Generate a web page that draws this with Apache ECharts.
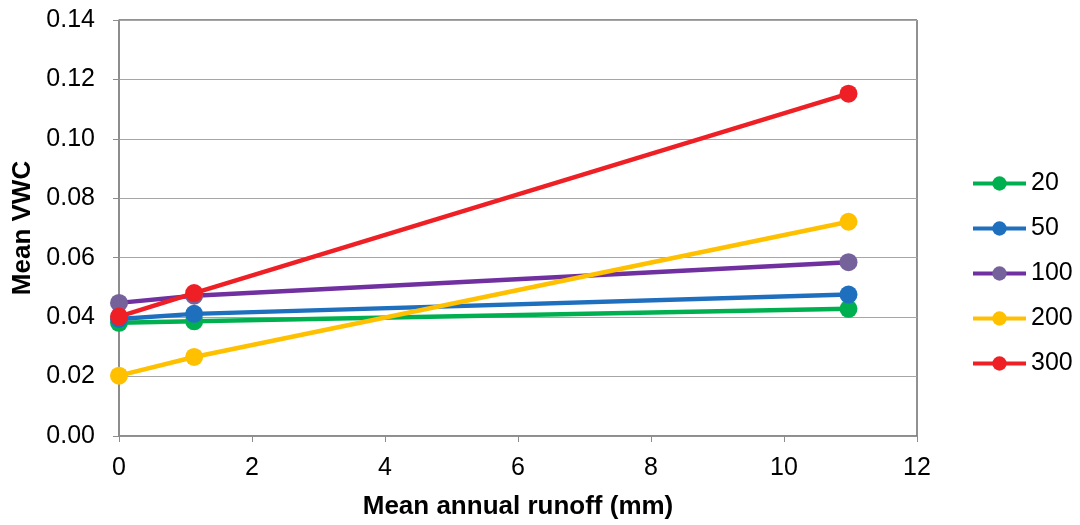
<!DOCTYPE html>
<html>
<head>
<meta charset="utf-8">
<script src="https://cdn.jsdelivr.net/npm/echarts@6/dist/echarts.min.js"></script>
<style>
  html, body { margin: 0; padding: 0; background: #fff; }
  #chart { width: 1080px; height: 525px; }
</style>
</head>
<body>
<div id="chart"></div>
<script>
// Mean annual runoff (mm) at each sampled site
const runoff = [0, 1.13, 10.97];

// Mean volumetric water content by depth series
const seriesNames = ['20', '50', '100', '200', '300'];
const vwc20  = [0.0381, 0.0386, 0.0428];
const vwc50  = [0.0394, 0.0411, 0.0476];
const vwc100 = [0.0448, 0.0472, 0.0585];
const vwc200 = [0.0203, 0.0266, 0.0721];
const vwc300 = [0.0402, 0.0481, 0.1152];

const lineColors   = ['#00b050', '#1f6fbf', '#7030a0', '#ffc000', '#ee2026'];
const markerColors = ['#00b050', '#1f6fbf', '#75629b', '#ffc000', '#ee2026'];
const values = [vwc20, vwc50, vwc100, vwc200, vwc300];

const font = 'Liberation Sans, Arial, sans-serif';

const chart = echarts.init(document.getElementById('chart'));
chart.setOption({
  animation: false,
  backgroundColor: '#fff',
  grid: {
    left: 119, right: 163, top: 20, bottom: 87,
    show: true, borderColor: '#222', borderWidth: 1
  },
  legend: {
    orient: 'vertical',
    left: 971,
    top: 171,
    padding: 0,
    itemGap: 20,
    itemWidth: 53,
    itemHeight: 18,
    lineStyle: { width: 4 },
    textStyle: { fontFamily: font, fontSize: 25, color: '#000' },
    data: seriesNames
  },
  xAxis: {
    type: 'value',
    min: 0, max: 12, interval: 2,
    name: 'Mean annual runoff (mm)',
    nameLocation: 'middle',
    nameGap: 58,
    nameTextStyle: { fontFamily: font, fontSize: 26, fontWeight: 'bold', color: '#000' },
    axisLine: { show: true, lineStyle: { color: '#8c8c8c', width: 1.5 } },
    axisTick: { show: true, length: 6, lineStyle: { color: '#8c8c8c' } },
    axisLabel: { fontFamily: font, fontSize: 25, color: '#000', margin: 20 },
    splitLine: { show: false }
  },
  yAxis: {
    type: 'value',
    min: 0, max: 0.14, interval: 0.02,
    name: 'Mean VWC',
    nameLocation: 'middle',
    nameGap: 83,
    nameTextStyle: { fontFamily: font, fontSize: 26, fontWeight: 'bold', color: '#000' },
    axisLine: { show: true, lineStyle: { color: '#8c8c8c', width: 1.5 } },
    axisTick: { show: true, length: 6, lineStyle: { color: '#8c8c8c' } },
    axisLabel: {
      fontFamily: font, fontSize: 25, color: '#000', margin: 24,
      formatter: v => v.toFixed(2)
    },
    splitLine: { show: true, lineStyle: { color: '#a6a6a6', width: 1 } }
  },
  series: seriesNames.map((name, i) => ({
    name,
    type: 'line',
    data: runoff.map((x, j) => [x, values[i][j]]),
    symbol: 'circle',
    symbolSize: 18,
    lineStyle: { color: lineColors[i], width: 4.5 },
    itemStyle: { color: markerColors[i] },
    z: 2 + i
  }))
});
</script>
</body>
</html>
